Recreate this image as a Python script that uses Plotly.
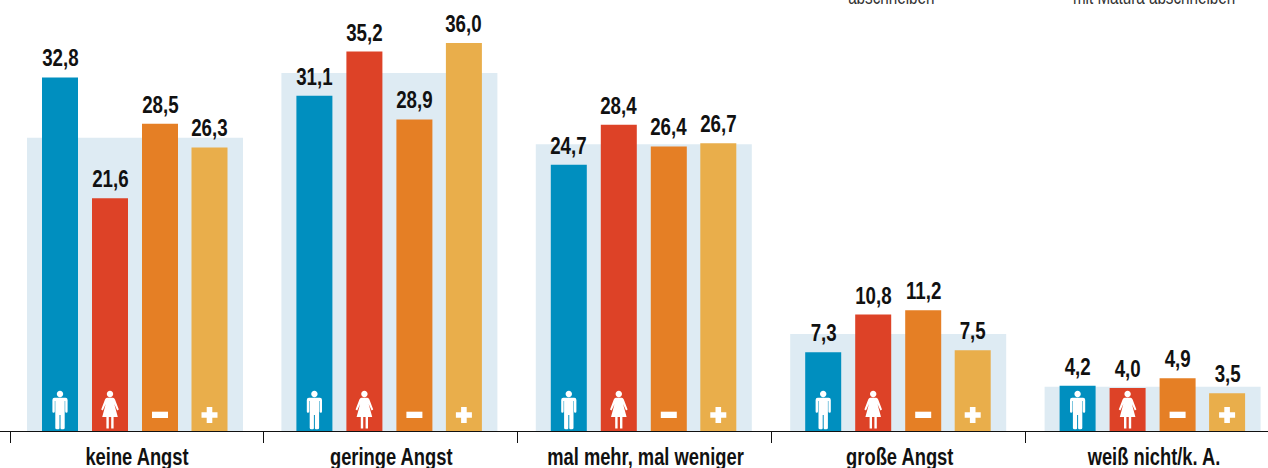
import plotly.graph_objects as go

categories = ["keine Angst", "geringe Angst", "mal mehr, mal weniger", "große Angst", "weiß nicht/k. A."]
gesamt = [27.2, 33.2, 26.6, 9.0, 4.1]
maenner = [32.8, 31.1, 24.7, 7.3, 4.2]
frauen = [21.6, 35.2, 28.4, 10.8, 4.0]
ohne_matura = [28.5, 28.9, 26.4, 11.2, 4.9]
mit_matura = [26.3, 36.0, 26.7, 7.5, 3.5]

series = [maenner, frauen, ohne_matura, mit_matura]
colors = ["#008FBF", "#DD4227", "#E57F25", "#E9AE4B"]
BG = "#DEEBF3"
FONT = "Liberation Sans, Arial, sans-serif"
INK = "#111111"

PITCH = 254.4              # pixels per category
X_RANGE = [-135 / PITCH, (1268 - 135) / PITCH]
offsets = [-75 / PITCH, -25 / PITCH, 25 / PITCH, 74.5 / PITCH]
BAR_W = 36 / PITCH
BG_W = 216 / PITCH

idx = list(range(len(categories)))
fig = go.Figure()
fig.add_bar(x=idx, y=gesamt, width=BG_W, marker_color=BG, marker_line_width=0, showlegend=False, hoverinfo="skip")
for vals, off, col in zip(series, offsets, colors):
    fig.add_bar(x=[i + off for i in idx], y=vals, width=BAR_W, marker_color=col, marker_line_width=0, showlegend=False)


def head(cy, r=3.2):
    k = r * 0.55
    return (f"M {-r} {cy} C {-r} {cy + k} {-k} {cy + r} 0 {cy + r} C {k} {cy + r} {r} {cy + k} {r} {cy} "
            f"C {r} {cy - k} {k} {cy - r} 0 {cy - r} C {-k} {cy - r} {-r} {cy - k} {-r} {cy} Z ")


MAN = head(37) + (
    "M -5.5 33.2 L 5.5 33.2 Q 7.6 33.2 7.6 31 L 7.6 19.5 Q 7.6 18.2 6.5 18.2 Q 5.2 18.2 5.2 19.5 L 5.2 30 "
    "L 4.7 30 L 4.7 3 Q 4.7 1.8 3 1.8 L 1.6 1.8 Q 0.5 1.8 0.5 3 L 0.5 16 L -0.5 16 L -0.5 3 Q -0.5 1.8 -1.6 1.8 "
    "L -3 1.8 Q -4.7 1.8 -4.7 3 L -4.7 30 L -5.2 30 L -5.2 19.5 Q -5.2 18.2 -6.5 18.2 Q -7.6 18.2 -7.6 19.5 "
    "L -7.6 31 Q -7.6 33.2 -5.5 33.2 Z"
)
WOMAN = head(37) + (
    "M -3 33.2 L 3 33.2 Q 4.3 33.2 5 31.5 L 8.8 21.5 L 7.2 20.6 L 4.3 27 L 7.8 14 L 3.6 14 L 3.6 2.6 L 1.2 2.6 "
    "L 1.2 14 L -1.2 14 L -1.2 2.6 L -3.6 2.6 L -3.6 14 L -7.8 14 L -4.3 27 L -7.2 20.6 L -8.8 21.5 L -5 31.5 "
    "Q -4.3 33.2 -3 33.2 Z"
)
MINUS = "M -8 13 L 8 13 L 8 19.3 L -8 19.3 Z"
PLUS = ("M -2.8 8 L 2.8 8 L 2.8 13.2 L 8 13.2 L 8 18.8 L 2.8 18.8 L 2.8 24 L -2.8 24 L -2.8 18.8 L -8 18.8 "
        "L -8 13.2 L -2.8 13.2 Z")
icons = [MAN, WOMAN, MINUS, PLUS]

shapes = []
for i in idx:
    for off, path in zip(offsets, icons):
        shapes.append(dict(type="path", path=path, xref="x", yref="y", xsizemode="pixel", ysizemode="pixel",
                           xanchor=i + off, yanchor=0, fillcolor="white", line_width=0, layer="above"))

annotations = []
for vals, off in zip(series, offsets):
    for i, v in zip(idx, vals):
        annotations.append(dict(x=i + off, y=v, xref="x", yref="y", text=f"<b>{v:.1f}</b>".replace(".", ","),
                                showarrow=False, xanchor="center", yanchor="bottom", yshift=4,
                                font=dict(family=FONT, size=24, color=INK)))
# legend captions cut off by the top of the frame in the source image
for txt, px in [("abschneiben", 891), ("mit Matura abschneiben", 1154)]:
    annotations.append(dict(x=px / 1268, y=(431 - 10) / 431, xref="paper", yref="paper", text=txt,
                            showarrow=False, xanchor="center", yanchor="bottom",
                            font=dict(family=FONT, size=19.5, color="#333333")))

fig.update_layout(
    width=1268, height=468, margin=dict(l=0, r=0, t=0, b=37, pad=0, autoexpand=False),
    paper_bgcolor="white", plot_bgcolor="white", barmode="overlay", showlegend=False,
    shapes=shapes, annotations=annotations,
    xaxis=dict(range=X_RANGE, showgrid=False, zeroline=False, showline=True, linecolor=INK, linewidth=1,
               automargin=False,
               tickvals=[i * 254.25 / PITCH + 2 / PITCH for i in idx], ticktext=[f"<b>{c}</b>" for c in categories],
               ticks="", ticklen=0, ticklabelstandoff=5,
               tickfont=dict(family=FONT, size=23.5, color=INK),
               minor=dict(tickvals=[(i * 253.75 - 125) / PITCH for i in idx], ticks="outside", ticklen=11, tickwidth=1,
                          tickcolor=INK)),
    yaxis=dict(range=[0, 431 / 10.78], visible=False),
)

# The source lettering is a condensed face: narrow the real text elements to its proportions.
NARROW = """
function narrow(sel, f){
  document.querySelectorAll(sel).forEach(function(t){
    var w = t.getComputedTextLength();
    t.setAttribute('textLength', (w * f).toFixed(1));
    t.setAttribute('lengthAdjust', 'spacingAndGlyphs');
  });
}
narrow('.annotation-text', 0.78);
narrow('.xtick text', 0.78);
document.body.style.margin = '0';
document.body.style.overflow = 'hidden';
"""
fig.write_html("out.html", post_script=NARROW, config=dict(displayModeBar=False))
